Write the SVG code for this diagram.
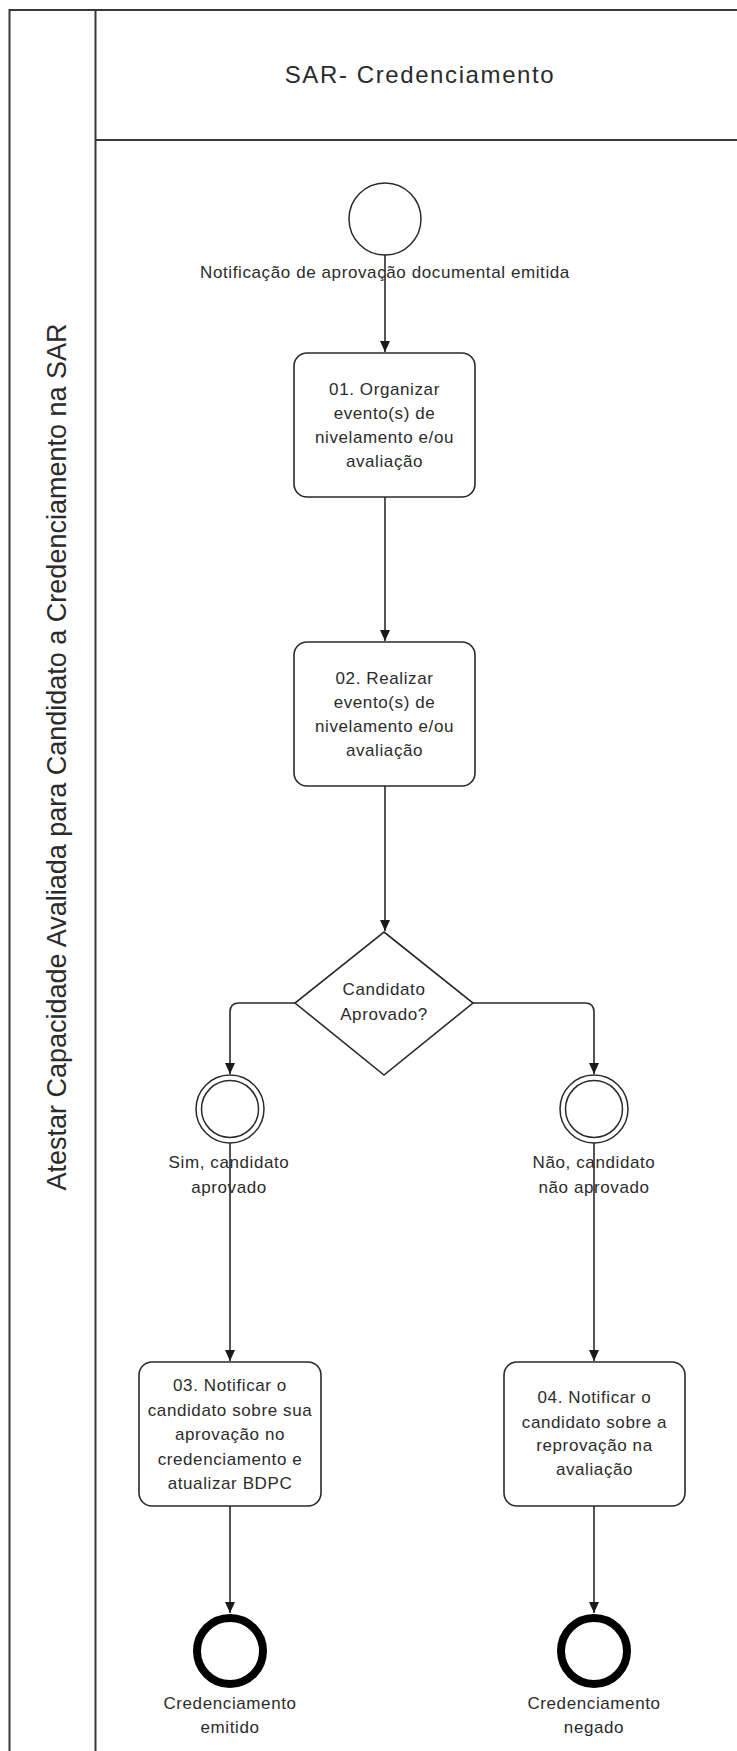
<svg xmlns="http://www.w3.org/2000/svg" width="737" height="1751" viewBox="0 0 737 1751">
<style>
.lane{fill:none;stroke:#383838;stroke-width:2}
.task{fill:#fff;stroke:#2a2a2a;stroke-width:1.6}
.ev{fill:#fff;stroke:#2a2a2a;stroke-width:1.5}
.end{fill:#fff;stroke:#000;stroke-width:8}
.t{font-family:"Liberation Sans",Arial,sans-serif;font-size:17px;fill:#2b2b2b;text-anchor:middle;letter-spacing:0.6px}
.title{font-family:"Liberation Sans",Arial,sans-serif;font-size:24px;fill:#2b2b2b;text-anchor:middle;letter-spacing:1.6px}
.vt{font-family:"Liberation Sans",Arial,sans-serif;font-size:27px;fill:#2b2b2b;text-anchor:middle}
.c{fill:none;stroke:#2a2a2a;stroke-width:1.6}
</style>
<defs>
<marker id="arr" markerUnits="userSpaceOnUse" markerWidth="12" markerHeight="12" viewBox="0 0 12 12" refX="11" refY="6" orient="auto">
<path d="M0,1 L11,6 L0,11 Z" fill="#1a1a1a"/>
</marker>
</defs>
<rect width="737" height="1751" fill="#fff"/>
<g id="pool">
<path class="lane" d="M740,10 H9.5 V1752"/>
<path class="lane" d="M95.5,10 V1752"/>
<path class="lane" d="M95.5,140 H740"/>
<text class="title" x="420" y="83">SAR- Credenciamento</text>
<text class="vt" transform="rotate(-90 66 757)" x="66" y="757">Atestar Capacidade Avaliada para Candidato a Credenciamento na SAR</text>
</g>
<g id="start">
<circle class="ev" cx="385" cy="219" r="36"/>
<text class="t" x="385" y="278">Notificação de aprovação documental emitida</text>
</g>
<g id="task01">
<rect class="task" x="294" y="353" width="181" height="144" rx="13"/>
<text class="t" x="384.5" y="395">01. Organizar</text>
<text class="t" x="384.5" y="419">evento(s) de</text>
<text class="t" x="384.5" y="443">nivelamento e/ou</text>
<text class="t" x="384.5" y="467">avaliação</text>
</g>
<g id="task02">
<rect class="task" x="294" y="642" width="181" height="144" rx="13"/>
<text class="t" x="384.5" y="684">02. Realizar</text>
<text class="t" x="384.5" y="708">evento(s) de</text>
<text class="t" x="384.5" y="732">nivelamento e/ou</text>
<text class="t" x="384.5" y="756">avaliação</text>
</g>
<g id="gateway">
<path class="task" d="M384,932 L473,1003 L384,1075 L295,1003 Z"/>
<text class="t" x="384" y="995">Candidato</text>
<text class="t" x="384" y="1020">Aprovado?</text>
</g>
<g id="evSim">
<circle class="ev" cx="230" cy="1109" r="34"/>
<circle class="ev" cx="230" cy="1109" r="28.5"/>
<text class="t" x="229" y="1168">Sim, candidato</text>
<text class="t" x="229" y="1193">aprovado</text>
</g>
<g id="evNao">
<circle class="ev" cx="594" cy="1109" r="34"/>
<circle class="ev" cx="594" cy="1109" r="28.5"/>
<text class="t" x="594" y="1168">Não, candidato</text>
<text class="t" x="594" y="1193">não aprovado</text>
</g>
<g id="task03">
<rect class="task" x="139" y="1362" width="182" height="144" rx="13"/>
<text class="t" x="230" y="1391">03. Notificar o</text>
<text class="t" x="230" y="1416">candidato sobre sua</text>
<text class="t" x="230" y="1440">aprovação no</text>
<text class="t" x="230" y="1465">credenciamento e</text>
<text class="t" x="230" y="1489">atualizar BDPC</text>
</g>
<g id="task04">
<rect class="task" x="504" y="1362" width="181" height="144" rx="13"/>
<text class="t" x="594.5" y="1403">04. Notificar o</text>
<text class="t" x="594.5" y="1428">candidato sobre a</text>
<text class="t" x="594.5" y="1451">reprovação na</text>
<text class="t" x="594.5" y="1475">avaliação</text>
</g>
<g id="endEmitido">
<circle class="end" cx="230" cy="1651" r="33"/>
<text class="t" x="230" y="1709">Credenciamento</text>
<text class="t" x="230" y="1733">emitido</text>
</g>
<g id="endNegado">
<circle class="end" cx="594" cy="1651" r="33"/>
<text class="t" x="594" y="1709">Credenciamento</text>
<text class="t" x="594" y="1733">negado</text>
</g>
<g id="connectors">
<path class="c" d="M385,255 V352" marker-end="url(#arr)"/>
<path class="c" d="M385,497 V641" marker-end="url(#arr)"/>
<path class="c" d="M385,786 V931" marker-end="url(#arr)"/>
<path class="c" d="M295,1003 H239 Q230,1003 230,1012 V1074" marker-end="url(#arr)"/>
<path class="c" d="M473,1003 H585 Q594,1003 594,1012 V1074" marker-end="url(#arr)"/>
<path class="c" d="M230,1143 V1361" marker-end="url(#arr)"/>
<path class="c" d="M594,1143 V1361" marker-end="url(#arr)"/>
<path class="c" d="M230,1506 V1613" marker-end="url(#arr)"/>
<path class="c" d="M594,1506 V1613" marker-end="url(#arr)"/>
</g>
</svg>
